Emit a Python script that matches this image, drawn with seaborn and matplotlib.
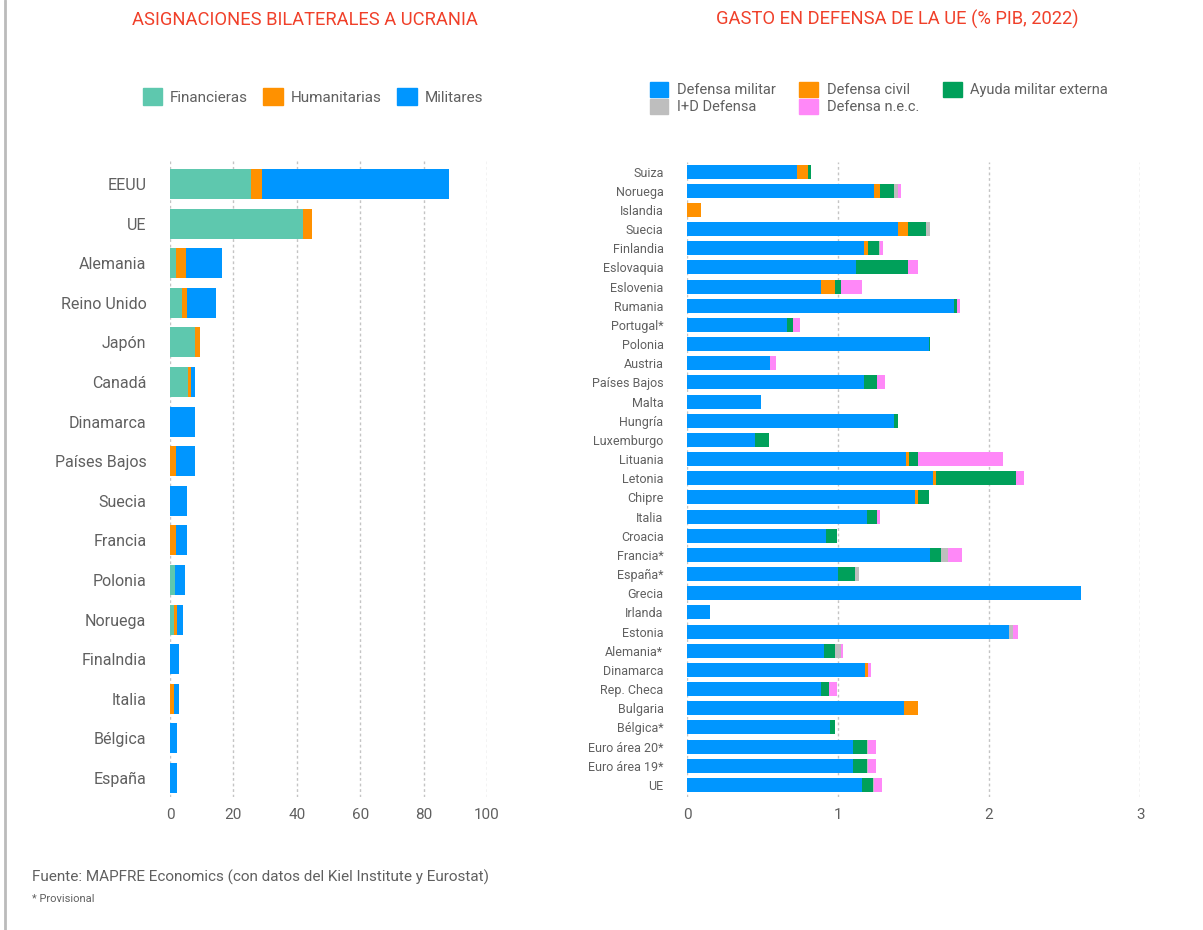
import numpy as np
import seaborn as sns
import matplotlib.pyplot as plt
from matplotlib.patches import Patch
from matplotlib.lines import Line2D

sns.set_style("white")
plt.rcParams['font.family'] = ['Roboto', 'DejaVu Sans']

# ---- left chart: bilateral allocations to Ukraine (bn EUR) ----
paises_l = ["EEUU", "UE", "Alemania", "Reino Unido", "Japón", "Canadá", "Dinamarca",
            "Países Bajos", "Suecia", "Francia", "Polonia", "Noruega", "Finalndia",
            "Italia", "Bélgica", "España"]
financieras = [25.5, 42.0, 2.0, 3.9, 8.0, 5.6, 0, 0, 0, 0, 1.5, 1.4, 0, 0, 0, 0]
humanitarias = [3.5, 2.9, 2.9, 1.6, 1.6, 0.9, 0, 2.0, 0, 2.0, 0, 0.7, 0, 1.4, 0, 0]
militares = [59.0, 0, 11.6, 9.1, 0, 1.5, 8.0, 6.0, 5.5, 3.5, 3.1, 1.9, 3.0, 1.6, 2.1, 2.1]

# ---- right chart: EU defence spending (% GDP, 2022) ----
paises_r = ["Suiza", "Noruega", "Islandia", "Suecia", "Finlandia", "Eslovaquia", "Eslovenia",
            "Rumania", "Portugal*", "Polonia", "Austria", "Países Bajos", "Malta", "Hungría",
            "Luxemburgo", "Lituania", "Letonia", "Chipre", "Italia", "Croacia", "Francia*",
            "España*", "Grecia", "Irlanda", "Estonia", "Alemania*", "Dinamarca", "Rep. Checa",
            "Bulgaria", "Bélgica*", "Euro área 20*", "Euro área 19*", "UE"]
def_militar = [0.73, 1.24, 0, 1.40, 1.17, 1.12, 0.89, 1.77, 0.66, 1.60, 0.55, 1.17, 0.49, 1.37,
               0.45, 1.45, 1.63, 1.51, 1.19, 0.92, 1.61, 1.00, 2.61, 0.15, 2.13, 0.91, 1.18, 0.89,
               1.44, 0.95, 1.10, 1.10, 1.16]
def_civil = [0.07, 0.04, 0.09, 0.06, 0.03, 0, 0.09, 0, 0, 0, 0, 0, 0, 0,
             0, 0.02, 0.02, 0.02, 0, 0, 0, 0, 0, 0, 0, 0, 0.02, 0,
             0.09, 0, 0, 0, 0]
ayuda_ext = [0.02, 0.09, 0, 0.12, 0.07, 0.34, 0.04, 0.02, 0.04, 0.01, 0, 0.09, 0, 0.03,
             0.09, 0.06, 0.53, 0.07, 0.07, 0.07, 0.07, 0.11, 0, 0, 0, 0.07, 0, 0.05,
             0, 0.03, 0.09, 0.09, 0.07]
id_defensa = [0, 0.03, 0, 0.03, 0.01, 0, 0, 0, 0, 0, 0, 0, 0, 0,
              0, 0, 0, 0, 0, 0, 0.05, 0.03, 0, 0, 0.03, 0.04, 0, 0,
              0, 0, 0.01, 0.01, 0.01]
def_nec = [0, 0.02, 0, 0, 0.02, 0.07, 0.14, 0.02, 0.05, 0, 0.04, 0.05, 0, 0,
           0, 0.56, 0.05, 0, 0.02, 0, 0.09, 0, 0, 0, 0.03, 0.01, 0.02, 0.05,
           0, 0, 0.05, 0.05, 0.05]

TEAL, ORANGE, BLUE = "#5ec8ae", "#ff9100", "#0096ff"
GREEN, GREY, PINK = "#00a05a", "#bebebe", "#ff88f8"
RED = "#f0402a"
TXT = "#606060"


def stacked(ax, cats, series, colors, width):
    # draw cumulative totals from the largest down so segments stack
    cums = np.cumsum(np.array(series, dtype=float), axis=0)
    for cum, col in reversed(list(zip(cums, colors))):
        sns.barplot(x=cum, y=cats, orient="h", color=col, saturation=1,
                    width=width, errorbar=None, ax=ax, linewidth=0)


def style(ax, xmax, ypad_top, ypad_bot, n, ysize):
    ax.set_xlim(0, xmax)
    ax.set_ylim(n - 1 + ypad_bot, -ypad_top)
    ax.grid(axis="x", ls=(0, (2, 2)), color="#c4c4c4", lw=1)
    ax.set_axisbelow(True)
    sns.despine(ax=ax, left=True, bottom=True)
    ax.tick_params(length=0, colors=TXT)
    ax.tick_params(axis="x", labelsize=11, pad=8)
    ax.tick_params(axis="y", labelsize=ysize, pad=17)
    ax.set_xlabel("")
    ax.set_ylabel("")


fig = plt.figure(figsize=(12.03, 9.3), dpi=100)

ax1 = fig.add_axes([0.1413, 0.1430, 0.2635, 0.6839])
stacked(ax1, paises_l, [financieras, humanitarias, militares], [TEAL, ORANGE, BLUE], 0.76)
style(ax1, 100, 0.58, 0.48, len(paises_l), 11.5)
ax1.set_xticks([0, 20, 40, 60, 80, 100])

ax2 = fig.add_axes([0.5711, 0.1430, 0.3766, 0.6828])
stacked(ax2, paises_r, [def_militar, def_civil, ayuda_ext, id_defensa, def_nec],
        [BLUE, ORANGE, GREEN, GREY, PINK], 0.73)
style(ax2, 3, 0.5, 0.63, len(paises_r), 9)
ax2.set_xticks([0, 1, 2, 3])

fig.text(0.2535, 0.979, "ASIGNACIONES BILATERALES A UCRANIA", color=RED,
         fontsize=13.2, ha="center", va="center")
fig.text(0.7456, 0.979, "GASTO EN DEFENSA DE LA UE (% PIB, 2022)", color=RED,
         fontsize=13.2, ha="center", va="center")

h1 = [Patch(color=c, label=l) for c, l in
      [(TEAL, "Financieras"), (ORANGE, "Humanitarias"), (BLUE, "Militares")]]
fig.legend(handles=h1, loc="center", bbox_to_anchor=(0.26, 0.896), ncol=3,
           frameon=False, fontsize=11, handlelength=1.3, handleheight=1.3,
           handletextpad=0.5, columnspacing=1.0, labelcolor=TXT)

h2 = [Patch(color=BLUE, label="Defensa militar"), Patch(color=GREY, label="I+D Defensa"),
      Patch(color=ORANGE, label="Defensa civil"), Patch(color=PINK, label="Defensa n.e.c."),
      Patch(color=GREEN, label="Ayuda militar externa")]
fig.legend(handles=h2, loc="upper left", bbox_to_anchor=(0.529, 0.926), ncol=3,
           frameon=False, fontsize=10.5, handlelength=1.3, handleheight=1.2,
           handletextpad=0.6, columnspacing=1.6, labelspacing=0.1, labelcolor=TXT)

fig.text(0.0266, 0.057, "Fuente: MAPFRE Economics (con datos del Kiel Institute y Eurostat)",
         color=TXT, fontsize=11, va="center")
fig.text(0.0266, 0.033, "* Provisional", color=TXT, fontsize=8, va="center")

fig.add_artist(Line2D([0.0045, 0.0045], [0, 1], color="#bbbbbb", lw=2,
                      transform=fig.transFigure))

plt.savefig("out.png", dpi=100)
